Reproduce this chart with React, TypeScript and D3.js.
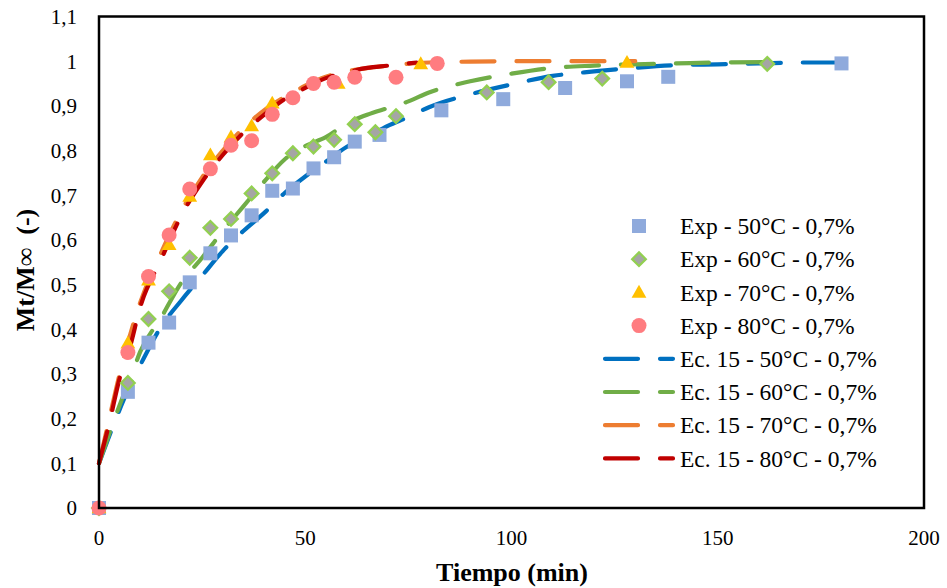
import React, { useEffect, useRef } from 'react';
import * as d3 from 'd3';

// experimental points (min, Mt/Minf)
const exp50T = [0, 7, 12, 17, 22, 27, 32, 37, 42, 47, 52, 57, 62, 68, 83, 98, 113, 128, 138, 180];
const exp50Y = [0, 0.26, 0.37, 0.415, 0.505, 0.57, 0.61, 0.655, 0.71, 0.715, 0.76, 0.785, 0.82, 0.835, 0.89, 0.915, 0.94, 0.955, 0.965, 0.995];

const exp60T = [0, 7, 12, 17, 22, 27, 32, 37, 42, 47, 52, 57, 62, 67, 72, 94, 109, 122, 162];
const exp60Y = [0, 0.28, 0.423, 0.485, 0.56, 0.627, 0.647, 0.704, 0.749, 0.794, 0.809, 0.824, 0.859, 0.841, 0.877, 0.93, 0.953, 0.961, 0.994];

const exp70T = [0, 7, 12, 17, 22, 27, 32, 37, 42, 58, 78, 128];
const exp70Y = [0, 0.369, 0.51, 0.589, 0.697, 0.79, 0.83, 0.855, 0.906, 0.95, 0.994, 0.997];

const exp80T = [0, 7, 12, 17, 22, 27, 32, 37, 42, 47, 52, 57, 62, 72, 82];
const exp80Y = [0, 0.348, 0.518, 0.611, 0.714, 0.759, 0.812, 0.822, 0.881, 0.918, 0.95, 0.953, 0.964, 0.964, 0.995];

// Ec. 15 model curves
const ec50T = [0, 5, 8, 10, 15, 20, 25, 30, 35, 40, 45, 50, 55, 60, 65, 70, 75, 80, 90, 100, 110, 120, 130, 140, 150, 160, 170, 180];
const ec50Y = [0.1, 0.22, 0.285, 0.32, 0.405, 0.465, 0.52, 0.575, 0.62, 0.66, 0.705, 0.742, 0.775, 0.808, 0.83, 0.855, 0.875, 0.897, 0.926, 0.948, 0.967, 0.977, 0.985, 0.991, 0.993, 0.995, 0.997, 0.997];

const ec60T = [0, 5, 8, 10, 15, 20, 25, 30, 35, 40, 45, 50, 55, 60, 65, 70, 75, 80, 90, 100, 110, 120, 130, 140, 150, 162];
const ec60Y = [0.1, 0.23, 0.3, 0.35, 0.425, 0.505, 0.56, 0.62, 0.675, 0.73, 0.78, 0.81, 0.83, 0.86, 0.88, 0.895, 0.91, 0.93, 0.955, 0.972, 0.985, 0.99, 0.993, 0.995, 0.997, 0.998];

const ec70T = [0, 2.5, 5, 10, 15, 20, 25, 30, 35, 40, 45, 50, 55, 60, 70, 80, 90, 100, 130];
const ec70Y = [0.1, 0.2, 0.3, 0.46, 0.57, 0.665, 0.74, 0.8, 0.85, 0.89, 0.92, 0.945, 0.965, 0.977, 0.99, 0.997, 0.999, 1.0, 1.0];

const ec80T = [0, 2.5, 5, 7.5, 10, 15, 20, 25, 30, 35, 40, 45, 50, 55, 60, 65, 70, 77];
const ec80Y = [0.1, 0.19, 0.29, 0.36, 0.45, 0.555, 0.655, 0.73, 0.79, 0.84, 0.88, 0.915, 0.94, 0.962, 0.975, 0.985, 0.99, 0.997];

const xTicks = [0, 50, 100, 150, 200];
const yTicks = [0, 0.1, 0.2, 0.3, 0.4, 0.5, 0.6, 0.7, 0.8, 0.9, 1, 1.1];

const expLabels = ['Exp - 50°C - 0,7%', 'Exp - 60°C - 0,7%', 'Exp - 70°C - 0,7%', 'Exp - 80°C - 0,7%'];
const ecLabels = ['Ec. 15 - 50°C - 0,7%', 'Ec. 15 - 60°C - 0,7%', 'Ec. 15 - 70°C - 0,7%', 'Ec. 15 - 80°C - 0,7%'];
const lineColors = ['#0070C0', '#70AD47', '#ED7D31', '#C00000'];

const W = 947;
const H = 588;
const FONT = '"Liberation Serif", "Times New Roman", serif';

export default function App() {
  const ref = useRef<SVGSVGElement>(null);

  useEffect(() => {
    const svg = d3.select(ref.current);
    svg.selectAll('*').remove();

    const x = d3.scaleLinear().domain([0, 200]).range([99, 924]);
    const y = d3.scaleLinear().domain([0, 1.1]).range([508, 16.5]);

    svg.append('rect').attr('width', W).attr('height', H).attr('fill', '#fff');

    // y tick labels
    svg.append('g').selectAll('text').data(yTicks).join('text')
      .attr('x', 77).attr('y', d => y(d)).attr('dy', '0.35em')
      .attr('text-anchor', 'end')
      .style('font-family', FONT).style('font-size', '21px')
      .text(d => d3.format('.1~f')(d).replace('.', ','));

    // x tick labels
    svg.append('g').selectAll('text').data(xTicks).join('text')
      .attr('x', d => x(d)).attr('y', 545)
      .attr('text-anchor', 'middle')
      .style('font-family', FONT).style('font-size', '21px')
      .text(d => d);

    // axis titles
    svg.append('text')
      .attr('x', 512).attr('y', 581)
      .attr('text-anchor', 'middle')
      .style('font-family', FONT).style('font-size', '26px').style('font-weight', 'bold')
      .text('Tiempo (min)');
    svg.append('text')
      .attr('transform', `translate(34,270) rotate(-90)`)
      .attr('text-anchor', 'middle')
      .style('font-family', FONT).style('font-size', '26px').style('font-weight', 'bold')
      .style('white-space', 'pre')
      .text('Mt/M∞  (-)');

    const line = d3.line<[number, number]>().x(d => x(d[0])).y(d => y(d[1])).curve(d3.curveMonotoneX);
    const series = [[ec50T, ec50Y], [ec60T, ec60Y], [ec70T, ec70Y], [ec80T, ec80Y]];

    const plot = svg.append('g');
    series.forEach(([ts, ys], i) => {
      plot.append('path')
        .datum(ts.map((t, j) => [t, ys[j]] as [number, number]))
        .attr('d', line)
        .attr('fill', 'none')
        .attr('stroke', lineColors[i])
        .attr('stroke-width', 4.2)
        .attr('stroke-linecap', 'round')
        .attr('stroke-dasharray', '33 22');
    });

    const pts = (ts: number[], ys: number[]) => ts.map((t, j) => ({ t, v: ys[j] }));

    plot.append('g').selectAll('rect').data(pts(exp50T, exp50Y)).join('rect')
      .attr('x', d => x(d.t) - 7).attr('y', d => y(d.v) - 7)
      .attr('width', 14).attr('height', 14)
      .attr('fill', '#8FAADC');

    const diamond = d3.symbol().type(d3.symbolDiamond2).size(120);
    plot.append('g').selectAll('path').data(pts(exp60T, exp60Y)).join('path')
      .attr('d', diamond)
      .attr('transform', d => `translate(${x(d.t)},${y(d.v)})`)
      .attr('fill', '#A5A5A5').attr('stroke', '#92D050').attr('stroke-width', 2.2);

    const tri = d3.symbol().type(d3.symbolTriangle).size(95);
    plot.append('g').selectAll('path').data(pts(exp70T, exp70Y)).join('path')
      .attr('d', tri)
      .attr('transform', d => `translate(${x(d.t)},${y(d.v) + 1})`)
      .attr('fill', '#FFC000');

    plot.append('g').selectAll('circle').data(pts(exp80T, exp80Y)).join('circle')
      .attr('cx', d => x(d.t)).attr('cy', d => y(d.v)).attr('r', 7.5)
      .attr('fill', '#FF7C80');

    // plot frame
    svg.append('rect')
      .attr('x', x(0)).attr('y', y(1.1))
      .attr('width', x(200) - x(0)).attr('height', y(0) - y(1.1))
      .attr('fill', 'none').attr('stroke', '#000').attr('stroke-width', 2.5);

    // legend
    const lg = svg.append('g');
    const rowY = (i: number) => 226 + i * 33.2;
    const mx = 639;
    lg.append('rect').attr('x', mx - 7).attr('y', rowY(0) - 7).attr('width', 14).attr('height', 14).attr('fill', '#8FAADC');
    lg.append('path').attr('d', diamond).attr('transform', `translate(${mx},${rowY(1)})`)
      .attr('fill', '#A5A5A5').attr('stroke', '#92D050').attr('stroke-width', 2.2);
    lg.append('path').attr('d', tri).attr('transform', `translate(${mx},${rowY(2) + 1})`).attr('fill', '#FFC000');
    lg.append('circle').attr('cx', mx).attr('cy', rowY(3)).attr('r', 7.5).attr('fill', '#FF7C80');

    lineColors.forEach((c, i) => {
      lg.append('line')
        .attr('x1', 605).attr('x2', 673)
        .attr('y1', rowY(4 + i)).attr('y2', rowY(4 + i))
        .attr('stroke', c).attr('stroke-width', 4.2)
        .attr('stroke-linecap', 'round').attr('stroke-dasharray', '33 22');
    });

    lg.selectAll('text.lbl').data([...expLabels, ...ecLabels]).join('text')
      .attr('class', 'lbl')
      .attr('x', 680).attr('y', (d, i) => rowY(i)).attr('dy', '0.35em')
      .style('font-family', FONT).style('font-size', '23.5px')
      .text(d => d);
  }, []);

  return (
    <svg ref={ref} width={W} height={H} style={{ position: 'absolute', left: 0, top: 0 }} />
  );
}
